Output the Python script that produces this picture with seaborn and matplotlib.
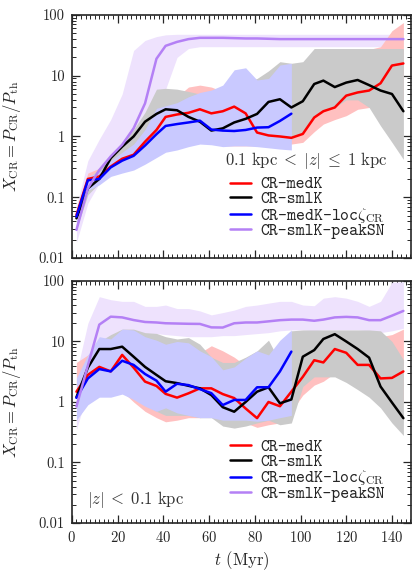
import matplotlib
matplotlib.use("Agg")
import pandas as pd
import matplotlib.pyplot as plt
import seaborn as sns
from matplotlib.lines import Line2D
from matplotlib.ticker import MultipleLocator, FixedLocator, FixedFormatter, LogLocator, NullFormatter

# snapshot times (Myr)
t = [2, 7, 12, 17, 22, 27, 32, 37, 41, 46, 51, 56, 61, 66, 71,
     76, 81, 86, 91, 96, 101, 106, 110, 115, 120, 125, 130, 135, 140, 145]
t_loc = t[:20]

runs = ["CR-medK", "CR-smlK", r"CR-medK-loc$\zeta_{\rm CR}$", "CR-smlK-peakSN"]
colors = ["#ff0000", "#000000", "#0000ff", "#b480f5"]
# light shades used for the spread of each run
band_colors = ["#ffc0c0", "#cacaca", "#c9c9ff", "#eee2fd"]

# ---- 0.1 kpc < |z| <= 1 kpc ----
top_med = [0.051, 0.2, 0.22, 0.32, 0.43, 0.5, 0.82, 1.28, 2.1, 2.3, 2.45, 2.8, 2.4, 2.6, 3.1,
           2.4, 1.16, 1.04, 1.0, 0.95, 1.1, 2.05, 2.6, 3.0, 4.7, 5.3, 5.7, 7.5, 14.7, 15.9]
top_med_lo = [0.04, 0.15, 0.18, 0.26, 0.33, 0.38, 0.5, 0.6, 0.75, 0.8, 0.85, 0.85, 0.8, 0.7, 0.7,
              0.7, 0.7, 0.72, 0.72, 0.75, 0.8, 1.2, 1.6, 1.9, 2.2, 2.8, 3.0, 3.2, 3.6, 4.0]
top_med_hi = [0.06, 0.25, 0.3, 0.4, 0.55, 0.7, 1.2, 2.0, 3.5, 4.5, 6.5, 7, 6.5, 5.5, 6,
              6, 5, 5, 5, 6, 8, 10, 12, 14, 18, 22, 27, 30, 55, 75]

top_sml = [0.045, 0.14, 0.2, 0.44, 0.68, 1.0, 1.75, 2.35, 2.8, 2.7, 2.1, 1.75, 1.25, 1.36, 1.7,
           1.95, 2.35, 3.7, 4.1, 3.0, 3.8, 7.3, 8.3, 6.5, 7.7, 8.5, 7.0, 5.7, 5.0, 2.6]
top_sml_lo = [0.03, 0.11, 0.17, 0.3, 0.45, 0.6, 0.8, 0.9, 0.9, 0.85, 0.85, 0.8, 0.75, 0.75, 0.75,
              0.8, 0.85, 0.9, 1.0, 0.9, 1.2, 2.2, 2.7, 3.0, 4.0, 4.0, 3.0, 1.5, 0.8, 0.42]
top_sml_hi = [0.06, 0.2, 0.3, 0.5, 0.8, 1.3, 2.5, 6, 6.2, 6, 5.5, 5, 5, 6, 7,
              8, 9, 12, 17, 16, 17, 28, 28, 28, 28, 28, 28, 28, 28, 28]

top_loc = [0.048, 0.19, 0.2, 0.31, 0.40, 0.48, 0.71, 1.09, 1.49, 1.6, 1.7, 1.82, 1.3, 1.25, 1.23,
           1.28, 1.4, 1.42, 1.8, 2.37]
top_loc_lo = [0.035, 0.13, 0.16, 0.22, 0.25, 0.28, 0.35, 0.45, 0.55, 0.6, 0.68, 0.75, 0.73, 0.68, 0.7,
              0.7, 0.68, 0.65, 0.62, 0.6]
top_loc_hi = [0.06, 0.22, 0.26, 0.4, 0.55, 0.75, 1.3, 2.9, 3.2, 3.6, 4.5, 5.3, 5.8, 7, 12.5,
              13.5, 8.5, 9, 15, 16]

top_peak = [0.029, 0.14, 0.28, 0.47, 0.73, 1.36, 3.5, 19, 31, 36, 40, 42, 42, 42, 41.5,
            41, 41, 40.5, 40, 40, 40, 40, 40, 40, 40, 40, 40, 40, 40, 40]
top_peak_lo = [0.018, 0.08, 0.17, 0.27, 0.38, 0.55, 0.9, 2.2, 6, 20, 28, 30, 30, 30, 30,
               30, 30, 30, 30, 30, 30, 30, 30, 30, 30, 30, 30, 30, 30, 30]
top_peak_hi = [0.07, 0.4, 0.9, 1.9, 5, 26, 38, 44, 47, 48, 48, 48, 48, 48, 48,
               48, 48, 48, 48, 48, 48, 48, 48, 48, 48, 48, 48, 48, 48, 48]

# ---- |z| < 0.1 kpc ----
bot_med = [1.48, 2.8, 3.8, 3.2, 6.0, 3.7, 2.17, 1.84, 1.36, 1.18, 1.39, 1.68, 1.68, 1.35, 1.16,
           0.78, 0.54, 1.0, 0.85, 1.48, 2.6, 4.9, 4.5, 7.5, 6.5, 4.1, 4.1, 2.45, 2.5, 3.2]
bot_med_lo = [0.9, 1.5, 2.0, 1.8, 1.5, 1.0, 0.7, 0.55, 0.47, 0.5, 0.55, 0.55, 0.6, 0.6, 0.55,
              0.45, 0.38, 0.42, 0.45, 0.7, 1.3, 1.9, 2.2, 3.0, 3.0, 2.5, 2.0, 1.5, 1.2, 1.0]
bot_med_hi = [4.5, 6, 8, 8, 10, 9, 7, 6, 5.5, 5, 5.5, 6.5, 8.5, 7, 5.5,
              4, 3, 3.5, 4, 5, 7, 9, 12, 14, 14, 12, 11, 12, 13, 16]

bot_sml = [1.2, 3.7, 7.5, 7.5, 8.2, 5.6, 3.8, 2.8, 2.2, 2.05, 1.85, 1.68, 1.3, 0.82, 0.69,
           1.0, 1.48, 1.75, 0.95, 1.1, 5.6, 7.2, 11, 13.2, 10, 7.5, 5.4, 1.8, 0.98, 0.54]
bot_sml_lo = [0.8, 2.2, 1.8, 1.5, 1.6, 1.2, 0.9, 0.7, 0.6, 0.6, 0.6, 0.55, 0.55, 0.4, 0.37,
              0.4, 0.45, 0.5, 0.42, 0.45, 1.8, 2.6, 2.6, 2.6, 2.1, 1.6, 1.2, 0.8, 0.45, 0.28]
bot_sml_hi = [1.5, 5, 10, 13, 16, 16, 14, 13.6, 12, 11, 11.6, 9, 5.5, 4.5, 4.5,
              5.5, 7, 10.5, 4.6, 15, 15.5, 15.5, 15.5, 15.5, 15.5, 15.5, 15.5, 15, 10, 5]

bot_loc = [1.17, 2.45, 3.5, 3.2, 4.8, 4.1, 2.9, 2.25, 1.48, 2.0, 1.9, 1.63, 1.4, 0.89, 1.08,
           1.08, 1.75, 1.75, 3.2, 6.8]
bot_loc_lo = [0.5, 0.9, 1.2, 1.2, 1.35, 1.1, 0.85, 0.7, 0.8, 0.66, 0.6, 0.55, 0.55, 0.5, 0.5,
              0.5, 0.48, 0.5, 0.55, 0.6]
bot_loc_hi = [2.5, 6, 12, 11, 16, 15.5, 12, 10.5, 9, 10, 9.5, 7, 5.6, 3.4, 3.8,
              5.3, 7, 6, 10.5, 15.5]

bot_peak = [0.84, 4.0, 19, 25.7, 25, 22.6, 21, 20.6, 20, 19.8, 19.6, 19.5, 17.1, 17, 20,
            20.6, 20.6, 21.5, 22.5, 23, 23, 22, 23, 25, 25.5, 25, 22.5, 22.5, 26.7, 32]
bot_peak_lo = [0.35, 1.5, 8, 11, 12, 13, 13.5, 13.5, 13, 12.5, 12, 12, 12, 12.5, 12.5,
               13, 13.5, 14, 15, 15.5, 15.5, 15, 15.5, 15.5, 15.5, 15.5, 15, 14, 15, 16.5]
bot_peak_hi = [3, 20, 55, 49, 46, 46, 38, 38, 40, 35, 35, 32, 27.5, 30, 33,
               38, 40, 43, 46, 46, 40, 39, 52, 55, 52, 46, 38, 46, 95, 97]


def long_frame(series):
    rows = []
    for run, (tt, y, lo, hi) in zip(runs, series):
        for a, b, c, d in zip(tt, y, lo, hi):
            rows.append({"t": a, "X": b, "lo": c, "hi": d, "run": run})
    return pd.DataFrame(rows)


df_top = long_frame([(t, top_med, top_med_lo, top_med_hi),
                     (t, top_sml, top_sml_lo, top_sml_hi),
                     (t_loc, top_loc, top_loc_lo, top_loc_hi),
                     (t, top_peak, top_peak_lo, top_peak_hi)])
df_bot = long_frame([(t, bot_med, bot_med_lo, bot_med_hi),
                     (t, bot_sml, bot_sml_lo, bot_sml_hi),
                     (t_loc, bot_loc, bot_loc_lo, bot_loc_hi),
                     (t, bot_peak, bot_peak_lo, bot_peak_hi)])

sns.set_style("ticks")
plt.rcParams["font.family"] = ["cmr10", "DejaVu Serif"]
plt.rcParams["mathtext.fontset"] = "cm"
plt.rcParams["axes.formatter.use_mathtext"] = True
plt.rcParams["axes.unicode_minus"] = False

fig = plt.figure(figsize=(4.13, 5.74), dpi=100)
ax1 = fig.add_axes([0.174, 0.5505, 0.821, 0.4235])
ax2 = fig.add_axes([0.174, 0.0889, 0.821, 0.4216])

palette = dict(zip(runs, colors))


def draw_panel(ax, df, text, text_xy, text_ha, leg_y):
    # shaded spreads: peakSN underneath, then medK, smlK, loc
    for i in [3, 0, 1, 2]:
        sub = df[df["run"] == runs[i]]
        ax.fill_between(sub["t"], sub["lo"], sub["hi"], color=band_colors[i], lw=0)
    sns.lineplot(data=df, x="t", y="X", hue="run", palette=palette, ax=ax,
                 legend=False, lw=1.8, sort=False, estimator=None)
    ax.set_yscale("log")
    ax.set_xlim(0, 148.3)
    ax.set_ylim(0.01, 100)
    ax.yaxis.set_major_locator(FixedLocator([0.01, 0.1, 1, 10, 100]))
    ax.yaxis.set_major_formatter(FixedFormatter(["0.01", "0.1", "1", "10", "100"]))
    ax.yaxis.set_minor_locator(LogLocator(base=10, subs=range(2, 10), numticks=20))
    ax.yaxis.set_minor_formatter(NullFormatter())
    ax.xaxis.set_major_locator(MultipleLocator(20))
    ax.xaxis.set_minor_locator(MultipleLocator(2))
    ax.tick_params(which="both", direction="in", top=True, right=True, labelsize=10.5)
    ax.tick_params(which="major", length=6, width=0.9, pad=5)
    ax.tick_params(which="minor", length=3, width=0.7)
    for s in ax.spines.values():
        s.set_linewidth(1.2)
    ax.set_ylabel(r"$X_{\rm CR} = P_{\rm CR}/P_{\rm th}$", fontsize=12)
    ax.yaxis.set_label_coords(-0.145, 0.5)
    ax.text(text_xy[0], text_xy[1], text, transform=ax.transAxes, fontsize=12,
            ha=text_ha, va="center", color="#333333")
    handles = [Line2D([], [], color=c, lw=1.8) for c in colors]
    ax.legend(handles, runs, loc="upper left", bbox_to_anchor=(0.465, leg_y),
              frameon=False, prop={"family": ["cmtt10", "DejaVu Sans Mono"], "size": 12.2},
              handlelength=1.25, handletextpad=0.55, labelspacing=-0.08, borderpad=0,
              borderaxespad=0)


draw_panel(ax1, df_top, r"$0.1\ {\rm kpc}\;<\;|z|\;\leq\;1\ {\rm kpc}$", (0.93, 0.40), "right", 0.335)
draw_panel(ax2, df_bot, r"$|z|\;<\;0.1\ {\rm kpc}$", (0.045, 0.095), "left", 0.345)

ax1.set_xlabel("")
ax1.tick_params(labelbottom=False)
ax2.set_xlabel(r"$t$ (Myr)", fontsize=12, labelpad=3)

fig.savefig("out.png", dpi=100)
